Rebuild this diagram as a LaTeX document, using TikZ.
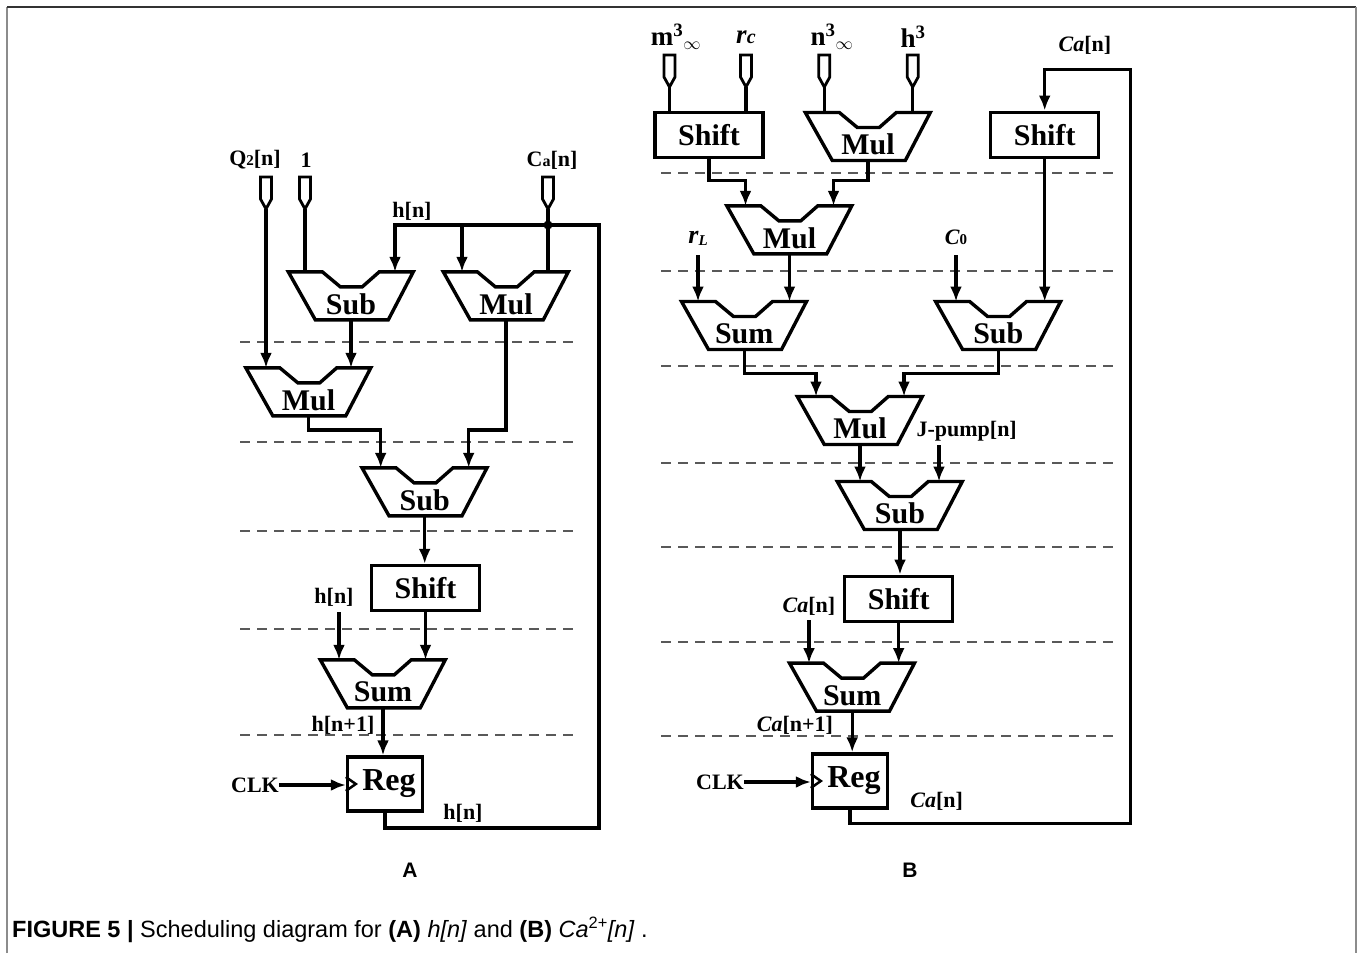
\documentclass[tikz,border=0pt]{standalone}
\usepackage{fontspec}
\setmainfont{Liberation Serif}
\newfontfamily\capfont{Liberation Sans}
\usetikzlibrary{arrows.meta}

\newcommand{\blockfont}{\fontsize{30}{32}\selectfont\bfseries}
\newcommand{\sigfont}{\fontsize{22}{24}\selectfont\bfseries}
\newcommand{\topfont}{\fontsize{27}{28}\selectfont\bfseries}

\tikzset{
  wire/.style={line width=3.4pt, black},
  unitline/.style={line width=3.4pt, black, line join=miter},
  alubox/.style={draw=none, minimum width=125pt, minimum height=48pt, inner sep=0pt},
  blockbox/.style={draw=black, line width=3.4pt, minimum width=108pt, minimum height=45pt, inner sep=0pt, font=\blockfont},
  regbox/.style={draw=black, line width=3.4pt, minimum width=75pt, minimum height=54pt, inner sep=0pt, font=\fontsize{32}{34}\selectfont\bfseries},
  blocktext/.style={inner sep=0pt, font=\blockfont},
  sig/.style={inner sep=0pt, font=\sigfont},
  toplabel/.style={inner sep=0pt, font=\topfont},
  panel/.style={inner sep=0pt, font=\capfont\fontsize{21}{22}\selectfont\bfseries},
  stage/.style={black!65, line width=2pt, dash pattern=on 10pt off 7pt},
}

% input pin: name, x, top
\newcommand{\inpin}[3]{%
  \draw[line width=2.8pt, black] (#2-5.5,#3) -- (#2+5.5,#3) -- (#2+5.5,#3+22)
    -- (#2,#3+32) -- (#2-5.5,#3+22) -- cycle;
  \coordinate (#1) at (#2,#3+32);
}

% arithmetic unit: name, x, y, text
\newcommand{\aluunit}[4]{%
  \node[alubox] (#1) at (#2,#3) {};
  \draw[unitline] (#1.north west) -- ++(34,0) -- ++(18,15) -- ++(22,0) -- ++(17,-15)
    -- ++(34,0) -- ++(-25,48) -- ++(-73,0) -- cycle;
  \node[blocktext] (#1-txt) at ([yshift=-8pt]#1.center) {#4};
  \coordinate (#1-l) at ([xshift=-44pt]#1.north);
  \coordinate (#1-r) at ([xshift=44pt]#1.north);
}

% register with clock mark
\newcommand{\regunit}[3]{%
  \node[regbox] (#1) at (#2,#3) {\hspace{8pt}Reg};
  \draw[line width=2.5pt] ([yshift=7pt]#1.west) -- ++(10,7) -- ++(-10,7);
}

\begin{document}
\begin{tikzpicture}[x=1pt, y=-1pt, >={Latex[length=15pt,width=12pt]}]
  \useasboundingbox (0,0) rectangle (1357,953);

  % frame
  \draw[black!45, line width=2pt] (7,953) -- (7,7);
  \draw[black!80, line width=2pt] (7,7) -- (1356,7);
  \draw[black!45, line width=2pt] (1356,7) -- (1356,953);

  % stage boundaries
  \foreach \yy in {342,442,531,629,735}
    \draw[stage] (240,\yy) -- (574,\yy);
  \foreach \yy in {173.3,271,365.7,462.7,546.7,642.3,735.7}
    \draw[stage] (661,\yy) -- (1115,\yy);

  % ---------------- A: h[n] ----------------
  \node[sig] (q2) at (255,160) {Q{\fontsize{15}{15}\selectfont 2}[n]};
  \node[sig] (one) at (306,160) {1};
  \node[sig] (caA) at (552,160) {C{\fontsize{16}{16}\selectfont a}[n]};
  \inpin{pinQ}{266}{177}
  \inpin{pinOne}{305}{177}
  \inpin{pinCa}{548}{177}

  \aluunit{subA}{351}{296}{Sub}
  \aluunit{mulA}{506}{296}{Mul}
  \aluunit{mulAb}{308.5}{392}{Mul}
  \aluunit{subAb}{424.7}{492}{Sub}
  \node[blockbox] (shiftA) at (425.5,588) {Shift};
  \aluunit{sumA}{383}{684}{Sum}
  \regunit{regA}{385}{784}

  \node[sig] (hA1) at (412,211) {h[n]};
  \node[sig] (hA2) at (334,597) {h[n]};
  \node[sig] (hA3) at (343,725) {h[n+1]};
  \node[sig] (hA4) at (463,813) {h[n]};
  \node[sig] (clkA) at (255,785) {CLK};

  \draw[wire] (pinOne) -- (pinOne |- subA.north);
  \draw[wire] (pinCa) -- (pinCa |- mulA.north);
  \draw[wire,->] (pinQ) -- (pinQ |- mulAb.north);
  \draw[wire,->] (subA.south) -- (subA.south |- mulAb.north);
  \draw[wire,->] (mulAb.south) -- (mulAb.south |- 0,430) -| (subAb-l);
  \draw[wire,->] (mulA.south) -- (mulA.south |- 0,430) -| (subAb-r);
  \draw[wire,->] (subAb.south) -- (subAb.south |- shiftA.north);
  \draw[wire,->] (shiftA.south) -- (shiftA.south |- sumA.north);
  \draw[wire,->] (sumA-l |- 0,612) -- (sumA-l);
  \draw[wire,->] (sumA.south) -- (sumA.south |- regA.north);
  \draw[wire,->] (clkA.east) -- (clkA.east -| regA.west);
  % feedback h[n]
  \coordinate (fbA) at (599,828);
  \draw[wire,->] (regA.south) |- (fbA) -- (fbA |- 0,225) -| (subA-r);
  \draw[wire,->] (mulA-l |- 0,225) -- (mulA-l);
  \fill (pinCa |- 0,225) circle (4.5pt);

  \node[panel] (labA) at (410,870) {A};

  % ---------------- B: Ca[n] ----------------
  \node[toplabel] (mB) at (676,37) {m$^{\mathbf{3}}{}_{\infty}$};
  \node[toplabel] (rcB) at (746,37) {\textit{r}{\fontsize{20}{20}\selectfont\textit{c}}};
  \node[toplabel] (nB) at (832,37) {n$^{\mathbf{3}}{}_{\infty}$};
  \node[toplabel] (hB) at (913,37) {h$^{\mathbf{3}}$};
  \inpin{pinM}{669.5}{55}
  \inpin{pinRc}{746}{55}
  \inpin{pinN}{824.3}{55}
  \inpin{pinH}{912.7}{55}

  \node[blockbox] (shiftB) at (709,135) {Shift};
  \aluunit{mulB}{868}{136.7}{Mul}
  \node[blockbox] (shiftBr) at (1044.7,134.7) {Shift};
  \aluunit{mulBb}{789.5}{230}{Mul}
  \aluunit{sumB}{744.2}{325.7}{Sum}
  \aluunit{subB}{998.3}{325.7}{Sub}
  \aluunit{mulBc}{860}{420.7}{Mul}
  \aluunit{subBb}{900}{505.7}{Sub}
  \node[blockbox] (shiftBb) at (898.7,598.8) {Shift};
  \aluunit{sumBb}{852.2}{687.3}{Sum}
  \regunit{regB}{850}{781}

  \node[sig] (caB1) at (1085,45) {\textit{Ca}[n]};
  \node[sig] (rL) at (698,238) {\fontsize{26}{26}\selectfont\textit{r}\raisebox{-2pt}{\fontsize{15}{15}\selectfont\textit{L}}};
  \node[sig] (c0) at (956,237) {\textit{C}{\fontsize{15}{15}\selectfont 0}};
  \node[sig] (jp) at (966.7,431.7) {J-pump[n]};
  \node[sig] (caB2) at (809,606) {\textit{Ca}[n]};
  \node[sig] (caB3) at (795,725) {\textit{Ca}[n+1]};
  \node[sig] (caB4) at (936.7,801.7) {\textit{Ca}[n]};
  \node[sig] (clkB) at (720,782) {CLK};

  \draw[wire] (pinM) -- (pinM |- shiftB.north);
  \draw[wire] (pinRc) -- (pinRc |- shiftB.north);
  \draw[wire] (pinN) -- (pinN |- mulB.north);
  \draw[wire] (pinH) -- (pinH |- mulB.north);
  \draw[wire,->] (shiftB.south) -- (shiftB.south |- 0,180.7) -| (mulBb-l);
  \draw[wire,->] (mulB.south) -- (mulB.south |- 0,180.7) -| (mulBb-r);
  \draw[wire,->] (mulBb.south) -- (mulBb.south |- sumB.north);
  \draw[wire,->] (rL.south |- 0,255) -- (rL.south |- sumB.north);
  \draw[wire,->] (c0.south |- 0,255) -- (c0.south |- subB.north);
  \draw[wire,->] (shiftBr.south) -- (shiftBr.south |- subB.north);
  \draw[wire,->] (sumB.south) -- (sumB.south |- 0,373.3) -| (mulBc-l);
  \draw[wire,->] (subB.south) -- (subB.south |- 0,373.3) -| (mulBc-r);
  \draw[wire,->] (mulBc.south) -- (mulBc.south |- subBb.north);
  \coordinate (jpin) at (939,445);
  \draw[wire,->] (jpin) -- (jpin |- subBb.north);
  \draw[wire,->] (subBb.south) -- (subBb.south |- shiftBb.north);
  \draw[wire,->] (shiftBb.south) -- (shiftBb.south |- sumBb.north);
  \draw[wire,->] (caB2.south |- 0,620) -- (caB2.south |- sumBb.north);
  \draw[wire,->] (sumBb.south) -- (sumBb.south |- regB.north);
  \draw[wire,->] (clkB.east) -- (clkB.east -| regB.west);
  % feedback Ca[n]
  \coordinate (fbB) at (1130.7,823.3);
  \draw[wire,->] (regB.south) |- (fbB) -- (fbB |- 0,69.3) -| (shiftBr.north);

  \node[panel] (labB) at (910,870) {B};

  % caption
  \node[anchor=west, inner sep=0pt, font=\capfont\fontsize{23.5}{25}\selectfont] (cap) at (12,930)
    {\textbf{FIGURE 5 |} Scheduling diagram for \textbf{(A)} \textit{h[n]} and \textbf{(B)} \textit{Ca}\textsuperscript{2+}\textit{[n]} .};
\end{tikzpicture}
\end{document}
